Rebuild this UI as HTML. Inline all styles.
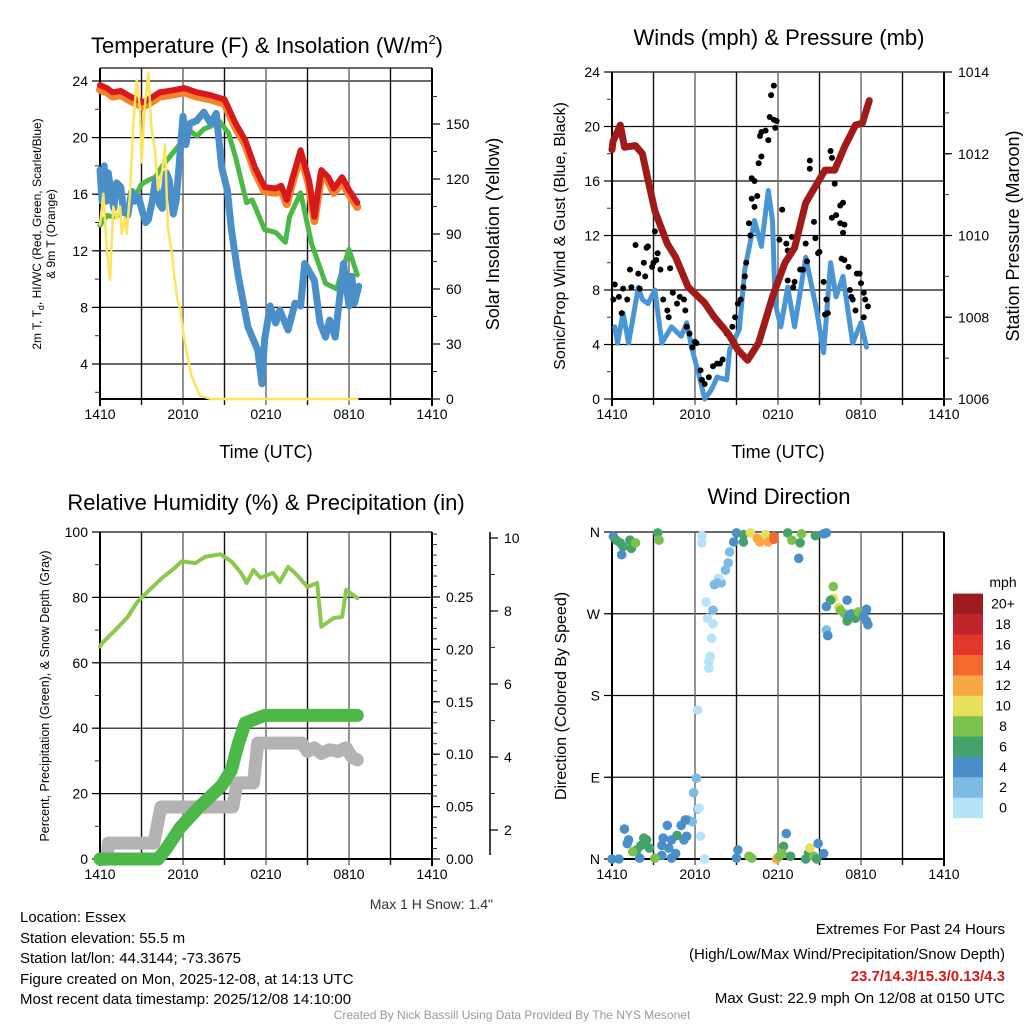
<!DOCTYPE html>
<html><head><meta charset="utf-8"><style>
html,body{margin:0;padding:0;background:#fff;}
svg{display:block;font-family:"Liberation Sans",Arial,sans-serif;}
</style></head><body>
<svg id="chart" width="1024" height="1024" viewBox="0 0 1024 1024" xmlns="http://www.w3.org/2000/svg">
<rect x="0" y="0" width="1024" height="1024" fill="#fff"/>
<g id="layer"></g>
<text x="267" y="53" font-size="22" text-anchor="middle">Temperature (F) &amp; Insolation (W/m<tspan font-size="13" dy="-9">2</tspan><tspan dy="9">)</tspan></text>
<text x="779" y="45" font-size="22" text-anchor="middle">Winds (mph) &amp; Pressure (mb)</text>
<text x="266" y="510" font-size="22" text-anchor="middle">Relative Humidity (%) &amp; Precipitation (in)</text>
<text x="779" y="504" font-size="22" text-anchor="middle">Wind Direction</text>
<text x="266" y="458" font-size="18" text-anchor="middle">Time (UTC)</text>
<text x="778" y="458" font-size="18" text-anchor="middle">Time (UTC)</text>
<text transform="translate(41,234) rotate(-90)" font-size="12" text-anchor="middle">2m T, T<tspan font-size="9" dy="3">d</tspan><tspan dy="-3">, HI/WC (Red, Green, Scarlet/Blue)</tspan></text>
<text transform="translate(55,234) rotate(-90)" font-size="12" text-anchor="middle">&amp; 9m T (Orange)</text>
<text transform="translate(499,234) rotate(-90)" font-size="18" text-anchor="middle">Solar Insolation (Yellow)</text>
<text transform="translate(565,236) rotate(-90)" font-size="16" text-anchor="middle">Sonic/Prop Wind &amp; Gust (Blue, Black)</text>
<text transform="translate(1019,236) rotate(-90)" font-size="18" text-anchor="middle">Station Pressure (Maroon)</text>
<text transform="translate(49,696) rotate(-90)" font-size="12.5" text-anchor="middle">Percent, Precipitation (Green), &amp; Snow Depth (Gray)</text>
<text transform="translate(566,696) rotate(-90)" font-size="16" text-anchor="middle">Direction (Colored By Speed)</text>
<text x="493" y="909" font-size="14" text-anchor="end" fill="#333">Max 1 H Snow: 1.4"</text>
<g font-size="15">
<text x="20" y="922">Location: Essex</text>
<text x="20" y="943">Station elevation: 55.5 m</text>
<text x="20" y="963">Station lat/lon: 44.3144; -73.3675</text>
<text x="20" y="984">Figure created on Mon, 2025-12-08, at 14:13 UTC</text>
<text x="20" y="1004">Most recent data timestamp: 2025/12/08 14:10:00</text>
</g>
<g font-size="15" text-anchor="end">
<text x="1005" y="934">Extremes For Past 24 Hours</text>
<text x="1005" y="959">(High/Low/Max Wind/Precipitation/Snow Depth)</text>
<text x="1005" y="981" font-weight="bold" fill="#d7191c">23.7/14.3/15.3/0.13/4.3</text>
<text x="1005" y="1003">Max Gust: 22.9 mph On 12/08 at 0150 UTC</text>
</g>
<text x="512" y="1019" font-size="12" text-anchor="middle" fill="#999">Created By Nick Bassill Using Data Provided By The NYS Mesonet</text>
<text x="1003" y="587" font-size="14" text-anchor="middle">mph</text>
<g id="cbar"></g>
</svg>
<script>
const timeLabels = ["1410","2010","0210","0810","1410"];
const tempTicks = [4,8,12,16,20,24];
const solarTicks = [0,30,60,90,120,150];
const windTicks = [0,4,8,12,16,20,24];
const presTicks = [1006,1008,1010,1012,1014];
const rhTicks = [0,20,40,60,80,100];
const precipTicks = ["0.00","0.05","0.10","0.15","0.20","0.25"];
const snowTicks = [2,4,6,8,10];
const dirLabels = ["N","E","S","W","N"];
const speedLabels = ["0","2","4","6","8","10","12","14","16","18","20+"];
const speedColors = ["#b7e3f8","#7dbae6","#4a8fc8","#43a36a","#7cc24a","#e8e05a","#f9a743","#f26a2d","#e0362c","#c1232a","#9b1b1e"];

const redH = [0,0.5,0.9,1.5,2.2,3.1,3.7,4.3,5,6.1,7,8,8.3,9.0,9.8,10.5,11.2,11.9,12.7,13.1,13.5,13.9,14.5,15.1,15.5,16.0,16.5,16.9,17.5,18.0,18.6];
const redV = [23.7,23.5,23.2,23.3,22.9,22.5,22.8,23.2,23.3,23.5,23.2,23.0,22.9,22.7,21.0,19.8,17.9,16.5,16.4,16.6,15.6,17.1,19.1,17.0,14.4,17.7,17.2,16.4,17.2,16.3,15.4];
const greenH = [0,0.5,1,1.5,2,2.5,3,3.5,4,4.5,5,5.5,6,6.5,7,7.5,8,8.6,9.3,9.8,10.6,11.0,11.9,12.7,13.4,13.7,14.5,15.3,16.3,17.1,18.0,18.6];
const greenV = [13.8,14.5,14.4,14.6,15.0,15.8,16.7,17.0,17.2,18.0,18.6,19.2,19.8,20.5,20.1,20.6,20.8,21.2,20.3,18.6,15.4,15.6,13.5,13.3,12.6,14.4,16.1,12.5,9.7,9.3,12.1,10.3];
const blueH = [0,0.15,0.3,0.45,0.6,0.8,1,1.2,1.5,1.7,2,2.3,2.5,2.8,3,3.3,3.5,3.8,4,4.3,4.5,4.8,5,5.3,5.5,5.8,6,6.2,6.5,7,7.5,8,8.4,8.8,9.2,9.5,10.0,10.7,11.4,11.7,11.9,12.3,12.7,13.0,13.6,14.1,14.5,14.8,15.5,15.9,16.3,16.6,17.0,17.6,18.0,18.2,18.4,18.7];
const blueV = [17.7,15.5,18.0,15.5,17.5,16.0,15.0,16.8,16.5,14.8,14.5,16.2,15.5,15.8,15.0,14.0,14.2,15.6,17.0,15.3,15.0,17.5,17.0,14.6,15.5,19.0,21.5,19.5,21.0,21.2,21.8,21.0,21.7,17.9,16.3,13.5,10.2,6.6,5.0,2.6,5.7,8.1,6.9,7.8,6.4,8.3,8.1,11.1,9.9,6.9,5.9,7.1,5.9,11.1,8.1,10.2,8.3,9.5];
const solarH = [0,0.24,0.48,0.72,0.96,1.2,1.45,1.57,1.8,1.93,2.17,2.4,2.65,2.9,3.0,3.25,3.5,3.7,4.0,4.2,4.5,4.7,4.9,5.2,5.4,5.6,5.8,6.1,6.6,7.2,8.0,18.6];
const solarV = [95,112,83,65,105,98,105,90,99,90,112,149,174,158,129,161,178,149,134,114,125,139,94,79,65,54,49,32,13,2,0,0];

const windH = [0.2,0.4,0.8,1.2,1.9,2.2,2.6,3.1,3.6,4.3,5.0,5.4,5.8,6.2,6.7,7.2,7.6,8.3,8.5,9.2,9.6,10.3,10.8,11.3,11.6,11.8,12.2,12.7,13.2,14.0,14.8,15.3,15.8,16.2,16.7,17.4,18.0,18.4];
const windV = [5.3,4.1,6.3,4.1,8.2,7.3,7.0,8.0,4.1,5.3,4.6,5.6,3.6,2.1,0.0,0.7,1.6,1.4,3.6,5.1,9.5,13.1,11.2,15.3,13.1,7.0,5.3,8.2,5.3,10.4,6.5,3.4,10.0,7.5,9.0,4.1,5.6,3.8];
const gustH = [0.1,0.2,0.5,0.7,0.8,1.1,1.3,1.4,1.7,1.9,2.0,2.3,2.4,2.5,2.6,2.9,3.0,3.1,3.2,3.3,3.5,3.7,4.0,4.1,4.2,4.4,4.7,4.9,5.2,5.3,5.4,5.6,5.8,6.0,6.1,6.4,6.5,6.7,7.0,7.3,7.6,7.8,8.0,8.3,8.7,8.9,9.1,9.3,9.5,9.6,9.7,9.9,10.0,10.1,10.3,10.5,10.1,10.3,10.6,10.8,10.7,10.8,11.1,11.3,11.4,11.7,11.8,11.9,11.5,11.7,12.1,12.3,12.6,12.7,12.7,13.0,13.1,13.2,13.6,13.8,14.0,14.1,14.3,14.3,14.6,14.7,14.9,15.0,15.3,15.4,15.6,15.5,15.8,15.9,16.1,16.0,15.9,16.2,16.5,16.7,16.5,16.8,16.7,16.6,16.8,17.1,17.2,17.3,17.4,17.6,17.7,17.9,18.0,18.2,18.3,18.5,18.2];
const gustV = [7.3,8.4,7.5,6.3,8.1,7.3,9.5,8.2,11.3,9.2,8.1,10.0,9.0,11.1,11.2,9.7,10.0,12.3,10.2,10.7,9.5,7.3,6.5,6.0,9.6,7.8,7.0,7.5,7.3,6.5,5.3,4.8,3.8,4.2,4.1,2.1,1.4,1.1,1.6,2.4,2.6,2.6,2.9,4.8,5.3,6.0,7.0,7.3,8.2,9.0,10.0,12.9,12.0,14.7,14.1,14.9,16.2,16.0,17.3,17.8,19.3,19.6,19.7,19.0,20.7,20.5,19.9,20.4,22.3,23.0,11.7,13.9,11.4,10.9,8.7,11.9,8.2,8.6,9.5,9.5,11.4,10.1,17.5,16.9,13.0,11.8,10.7,10.8,8.6,6.2,6.3,7.3,18.2,17.7,15.8,16.8,13.3,13.5,14.2,14.4,12.9,12.8,12.2,10.3,10.2,9.7,8.0,7.5,7.3,6.5,9.2,9.2,8.5,7.8,7.3,6.8,6.0];
const presH = [0,0.07,0.6,0.9,1.7,2.2,2.6,3.1,4.0,4.6,5.5,6.7,7.4,8.4,9.1,9.8,10.6,11.6,12.5,13.2,14.0,14.7,15.4,16.1,16.8,17.6,18.1,18.6];
const presV = [1012.1,1012.3,1012.7,1012.16,1012.2,1012.0,1011.36,1010.6,1009.8,1009.47,1008.74,1008.35,1008.0,1007.6,1007.2,1006.95,1007.37,1008.5,1009.33,1009.7,1010.8,1011.2,1011.6,1011.6,1012.16,1012.7,1012.75,1013.3];

const rhH = [0,0.15,1.1,2.0,2.7,3.5,4.5,5.4,5.9,6.9,7.6,8.7,9.5,10.2,10.6,11.1,11.6,12.5,13.0,13.6,14.1,15.0,15.7,16.0,16.9,17.5,17.8,18.6];
const rhV = [65,66,70,74,78.6,82,86,89,91,90.5,92.4,93.2,91,87.5,84.4,88.4,86,87.5,84.7,89.3,87.5,83.2,84.4,71,73.7,74,82.3,79.8];
const precipH = [0,4.2,4.8,5.8,6.5,7.2,8.0,8.8,9.5,10.0,10.5,11.9,18.6];
const precipV = [0,0,0.01,0.03,0.04,0.05,0.06,0.07,0.085,0.11,0.13,0.137,0.137];
const snowH = [0,0.5,0.6,1.6,3.9,4.4,9.6,9.9,11.1,11.4,12.0,14.6,15.0,15.5,16.0,16.6,17.2,17.8,18.2,18.6];
const snowV = [1.2,1.2,1.64,1.64,1.64,2.63,2.63,3.29,3.29,4.38,4.38,4.38,4.15,4.25,4.1,4.2,4.15,4.25,4.0,3.92];

const dirH = [0.1,0.3,0.6,0.8,1.3,1.4,1.7,0.7,3.3,3.4,6.5,6.5,9.0,8.8,8.5,8.4,8.2,7.9,7.7,7.6,7.4,9.5,9.5,10.0,10.5,10.7,11.1,11.3,11.7,11.7,12.7,13.0,13.6,13.7,13.5,14.7,15.3,15.5,
 16.0,16.0,15.8,16.4,15.5,16.5,16.8,17.1,15.5,15.6,6.8,7.3,6.9,7.3,7.2,7.1,7.0,7.0,6.2,17.0,17.3,17.6,17.8,18.2,18.4,18.4,17.0,18.5,
 6.1,5.9,6.2,6.3,5.8,5.5,5.3,5.0,5.4,5.2,4.7,4.3,4.0,3.7,3.6,4.1,4.6,4.3,3.6,3.1,2.7,2.5,2.3,2.1,1.8,1.5,1.2,1.1,0.9,2.0,0.5,6.4,6.7,9.1,9.0,9.9,10.1,11.9,12.1,12.4,12.3,12.6,12.9,14.0,14.2,14.3,14.6,14.8,14.9,15.3,0.0];
const dirV = [355,351,348,344,351,342,348,335,359,351,356,348,359,349,338,326,318,304,309,304,302,357,349,359,353,349,357,349,355,352,359,351,348,358,331,356,358,359,
 300,287,285,277,278,274,270,267,252,246,283,274,265,259,243,223,217,210,164,262,270,265,272,268,275,262,285,258,
 89,73,55,56,41,43,43,37,25,21,26,21,37,23,15,12,6,1,4,1,12,21,23,15,10,8,21,17,33,1,0,25,0,10,1,3,1,0,3,14,6,28,3,0,6,12,3,0,17,6,0];
const dirS = [5,7,7,7,7,7,9,5,7,9,1,1,5,5,3,3,3,3,1,3,3,7,7,11,13,13,11,13,15,15,7,9,7,9,5,7,5,5,
 9,11,7,11,5,9,9,5,3,5,1,3,1,1,1,1,1,1,1,7,5,7,9,5,5,5,5,5,
 3,3,3,1,3,3,5,5,5,5,7,5,5,5,5,5,5,5,5,9,7,7,7,7,7,9,5,5,5,5,5,1,1,5,5,9,9,13,9,7,9,5,7,7,7,11,9,7,5,5,5];

const NS = "http://www.w3.org/2000/svg";
const layer = document.getElementById('layer');
function mk(tag, attrs, parent){
  const el = document.createElementNS(NS, tag);
  for (const k in attrs) el.setAttribute(k, attrs[k]);
  (parent||layer).appendChild(el);
  return el;
}
const PW = 332;
function xOf(x0, h){ return x0 + h*PW/24; }
function lin(d0,d1,r0,r1){ return v => r0 + (v-d0)*(r1-r0)/(d1-d0); }
function pathD(hs, vs, xf, yf){
  let d=''; for(let i=0;i<hs.length;i++){ d += (i?'L':'M') + xf(hs[i]).toFixed(1)+','+yf(vs[i]).toFixed(1); } return d;
}
function frame(x0,y0,y1, hLines){
  hLines.forEach(y=>{
    const l = mk('line',{x1:x0,x2:x0+PW,y1:y,y2:y,stroke:'#111','stroke-width':1.2});
    
    
  });
  for(let h=3;h<24;h+=3){
    const x = xOf(x0,h);
    const l = mk('line',{x1:x,x2:x,y1:y0,y2:y1+6,stroke:(h%6===0?'#666':'#111'),'stroke-width':1.4});
    
    
  }
  const ax = mk('path',{d:`M${x0},${y0}V${y1}H${x0+PW}V${y0}`,fill:'none',stroke:'#000','stroke-width':2});
  
  
  const tl = mk('line',{x1:x0,x2:x0,y1:y1,y2:y1+7,stroke:'#000','stroke-width':2});
  
  
  const tr = mk('line',{x1:x0+PW,x2:x0+PW,y1:y1,y2:y1+7,stroke:'#000','stroke-width':2});
  
  
  timeLabels.forEach((t,i)=>{
    const tx = mk('text',{x:xOf(x0,i*6),y:y1+20,'font-size':14,'text-anchor':'middle'});
    tx.textContent = t;
    
    
  });
}
function yTicks(x, ticks, yf, side, labels, minorStep, lo, hi){
  for(let v=lo; v<=hi+1e-9; v+=minorStep){
    const y=yf(v);
    const m = mk('line',{x1:x,x2:x+(side<0?-5:5),y1:y,y2:y,stroke:'#333','stroke-width':1});
    
    
  }
  ticks.forEach((v,i)=>{
    const y = yf(v);
    const t = mk('line',{x1:x,x2:x+(side<0?-8:8),y1:y,y2:y,stroke:'#000','stroke-width':1.2});
    
    
    const tx = mk('text',{x:x+(side<0?-12:14),y:y+5,'font-size':14,'text-anchor':side<0?'end':'start'});
    tx.textContent = labels ? labels[i] : v;
    
    
  });
}
function line(hs,vs,xf,yf,color,w,name){
  const p = mk('path',{d:pathD(hs,vs,xf,yf),fill:'none',stroke:color,'stroke-width':w,'stroke-linejoin':'round','stroke-linecap':'round'});
  
  
  return p;
}
{
  const x0=100,y0=68,y1=399;
  const yT = lin(24,4,81,364);
  const yS = lin(0,150,399,124);
  frame(x0,y0,y1,[y0].concat(tempTicks.map(yT)));
  yTicks(x0,tempTicks,yT,-1,null,2,2,24);
  yTicks(x0+PW,solarTicks,yS,1,null,15,0,165);
  const xf = h=>xOf(x0,h);
  line(redH,redV.map(v=>v-0.3),xf,yT,'#f5822a',8,'temp-9m-line');
  line(redH,redV,xf,yT,'#d7191c',6,'temp-2m-line');
  line(greenH,greenV,xf,yT,'#4cb848',5,'dewpoint-line');
  line(blueH,blueV,xf,yT,'#4a8fc8',7,'wind-chill-line');
  line(solarH,solarV,xf,yS,'#fde45a',2.5,'solar-line');
}
{
  const x0=612,y0=72,y1=399;
  const yW = lin(0,24,399,72);
  const yP = lin(1006,1014,399,72);
  frame(x0,y0,y1,windTicks.map(yW));
  yTicks(x0,windTicks,yW,-1,null,2,0,24);
  yTicks(x0+PW,presTicks,yP,1,null,1,1006,1014);
  const xf = h=>xOf(x0,h);
  line(windH,windV,xf,yW,'#4a95d4',5,'wind-speed-line');
  gustH.forEach((h,i)=>{
    const c = mk('circle',{cx:xf(h),cy:yW(gustV[i]),r:3,fill:'#000'});
    
    
  });
  line(presH,presV,xf,yP,'#a01a1a',7,'pressure-line');
}
{
  const x0=100,y0=532,y1=859;
  const yR = lin(0,100,859,532);
  const yPr = lin(0,0.25,859,597);
  const ySn = lin(2,10,830,538);
  frame(x0,y0,y1,rhTicks.map(yR));
  yTicks(x0,rhTicks,yR,-1,null,10,0,100);
  yTicks(x0+PW,precipTicks.map(Number),yPr,1,precipTicks,0.01,0,0.31);
  const sa = mk('line',{x1:490,x2:490,y1:532,y2:855,stroke:'#000','stroke-width':1.5});
  
  
  yTicks(490,snowTicks,ySn,1,null,1,2,10);
  const xf = h=>xOf(x0,h);
  line(rhH,rhV,xf,yR,'#8cc84b',4,'humidity-line');
  line(snowH,snowV,xf,ySn,'#b3b3b3',13,'snow-depth-line');
  line(precipH,precipV,xf,yPr,'#4cb848',13,'precipitation-line');
}
{
  const x0=612,y0=532,y1=859;
  const yD = lin(0,360,859,532);
  const dirVals=[0,90,180,270,360];
  frame(x0,y0,y1,dirVals.map(yD));
  yTicks(x0,dirVals,yD,-1,dirLabels,90,0,360);
  const xf = h=>xOf(x0,h);
  dirH.forEach((h,i)=>{
    const ci = Math.min(10,Math.floor(dirS[i]/2));
    const c = mk('circle',{cx:xf(h),cy:yD(dirV[i]),r:4.8,fill:speedColors[ci]});
    
    
  });
  const cb = document.getElementById('cbar');
  speedLabels.forEach((lab,i)=>{
    const y = 818 - (i+1)*20.4;
    const r = mk('rect',{x:953,y:y,width:30,height:20.6,fill:speedColors[i]},cb);
    
    
    const t = mk('text',{x:1003,y:y+15,'font-size':14,'text-anchor':'middle'},cb);
    t.textContent = lab;
    
    
  });
}
</script>
</body></html>
